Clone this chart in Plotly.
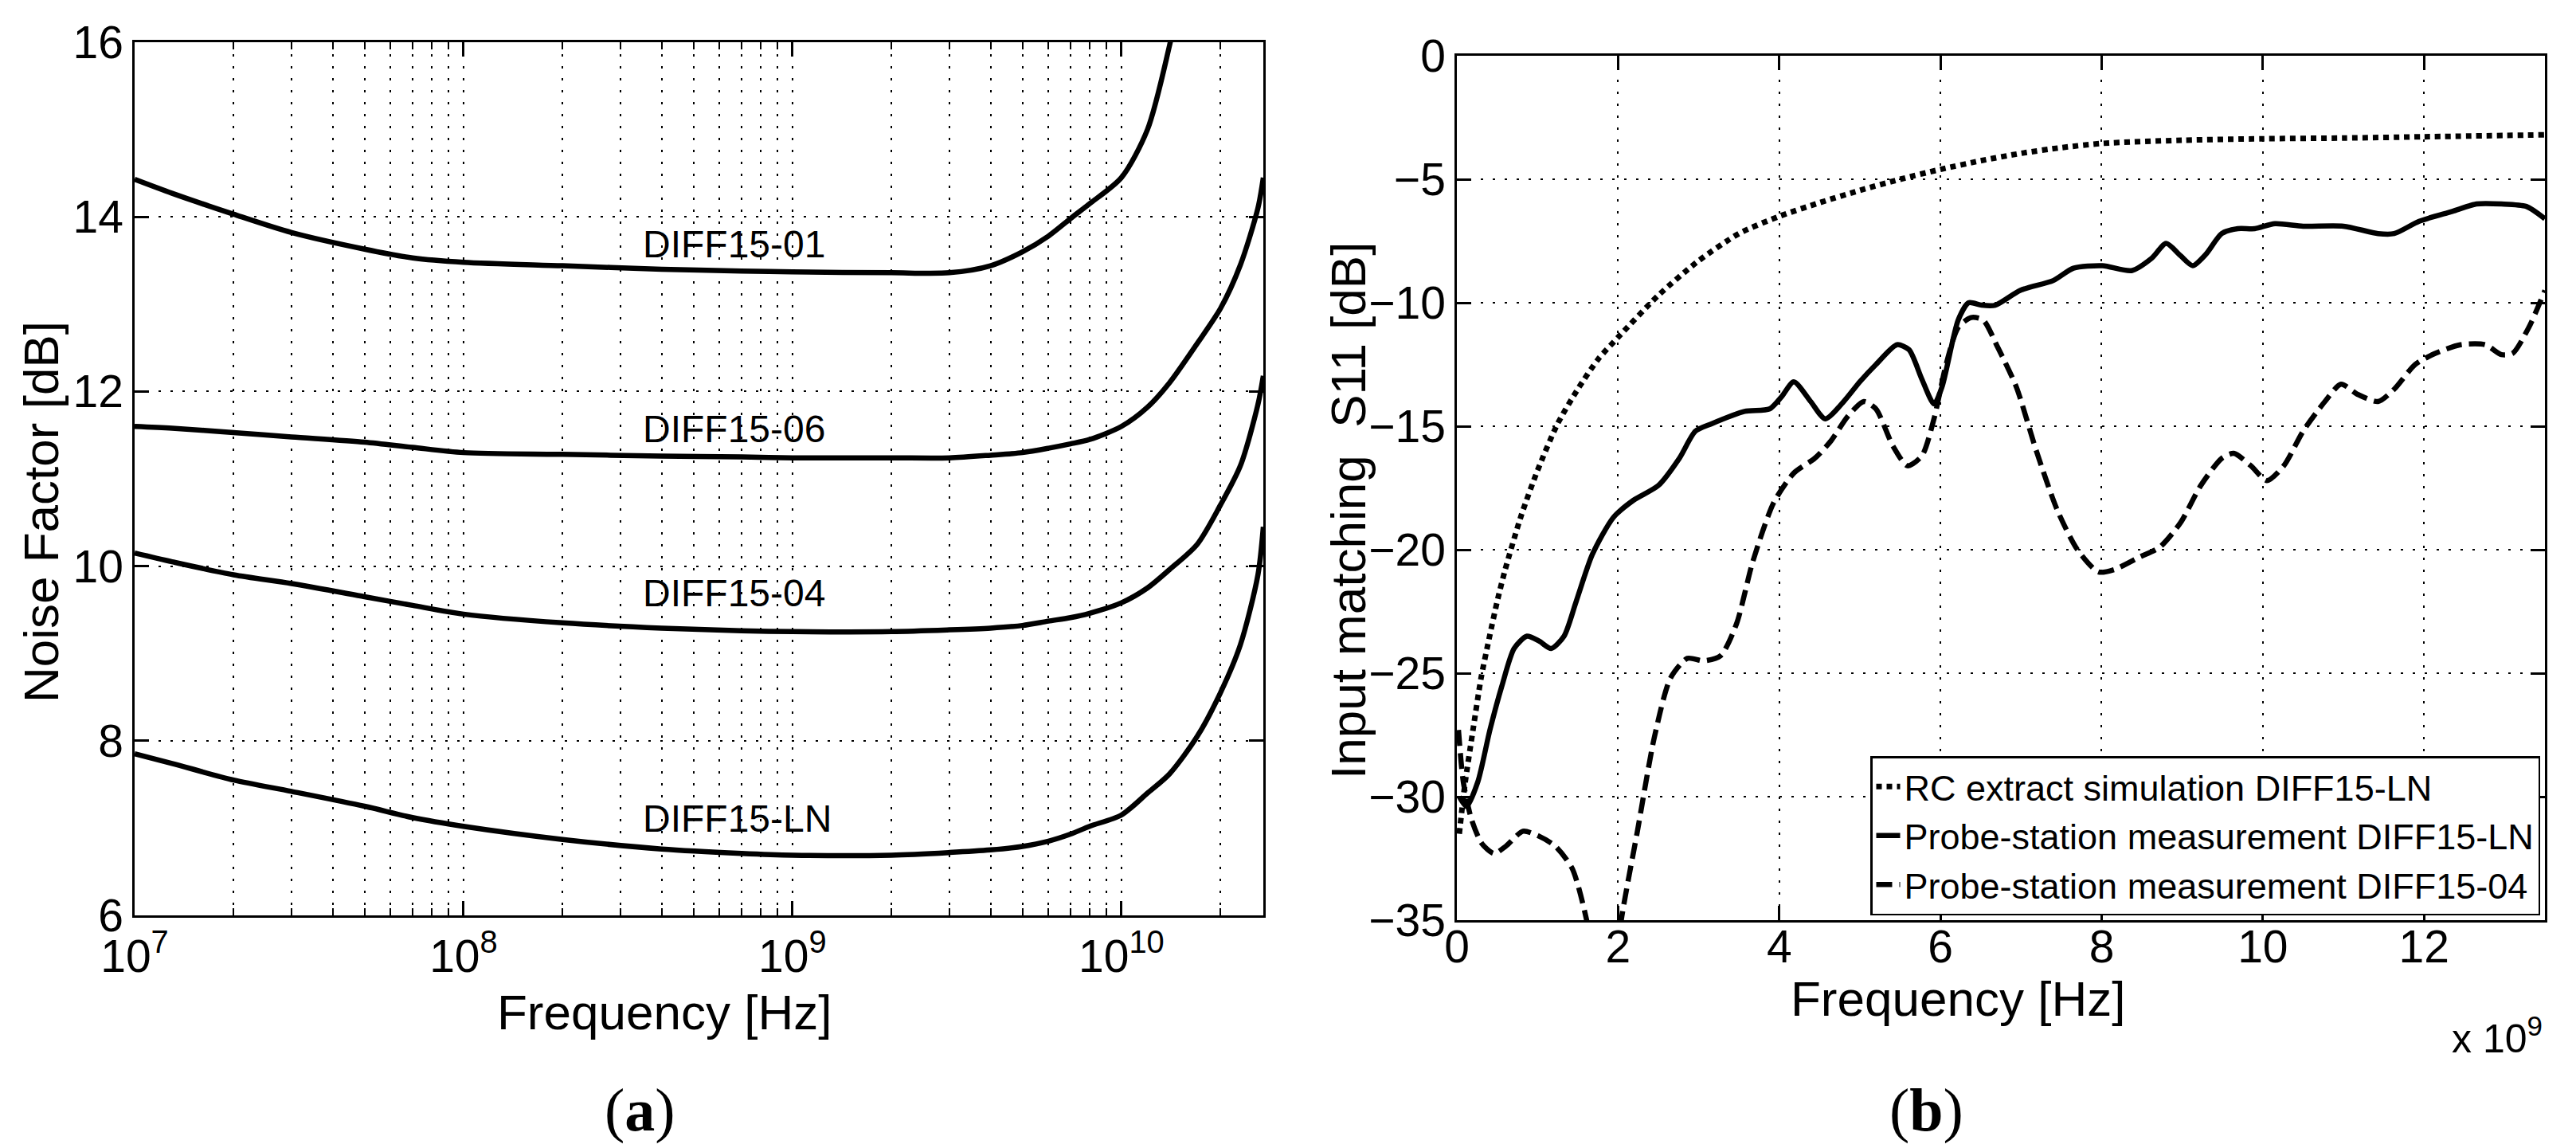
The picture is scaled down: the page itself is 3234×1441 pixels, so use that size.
import plotly.graph_objects as go
import numpy as np

# ---------------- Panel (a): noise factor vs frequency (log) ----------------
nf_freq_hz = [1e7, 1.3e7, 2e7, 3e7, 5e7, 7e7, 1e8, 2e8, 4e8, 7e8, 1e9, 2e9, 3e9,
              4e9, 5e9, 6e9, 7e9, 8e9, 1e10, 1.2e10, 1.4e10, 1.7e10, 2e10, 2.3e10,
              2.6e10, 2.7e10]
nf_diff15_01 = [14.43, 14.27, 14.03, 13.82, 13.63, 13.53, 13.48, 13.44, 13.40, 13.38,
                13.37, 13.36, 13.36, 13.44, 13.60, 13.78, 13.98, 14.15, 14.45, 15.0,
                15.96, 17.5]
nf_diff15_06 = [11.60, 11.58, 11.53, 11.48, 11.42, 11.36, 11.30, 11.28, 11.26, 11.25,
                11.24, 11.24, 11.24, 11.27, 11.30, 11.35, 11.40, 11.45, 11.60, 11.82,
                12.10, 12.55, 12.95, 13.45, 14.10, 14.45]
nf_diff15_04 = [10.15, 10.05, 9.90, 9.80, 9.65, 9.55, 9.45, 9.35, 9.29, 9.26,
                9.25, 9.25, 9.27, 9.29, 9.32, 9.37, 9.41, 9.46, 9.58, 9.75,
                9.96, 10.25, 10.70, 11.15, 11.85, 12.18]
nf_diff15_ln = [7.85, 7.74, 7.55, 7.42, 7.25, 7.12, 7.02, 6.87, 6.76, 6.71,
                6.69, 6.69, 6.72, 6.75, 6.79, 6.85, 6.93, 7.02, 7.15, 7.40,
                7.62, 8.05, 8.55, 9.10, 9.90, 10.45]
nf_names = ["DIFF15-01", "DIFF15-06", "DIFF15-04", "DIFF15-LN"]
nf_label_freq = [6.65e8, 6.65e8, 6.65e8, 6.8e8]
nf_label_val = [13.69, 11.57, 9.69, 7.11]

nf_tickvals = [1e7, 1e8, 1e9, 1e10]
nf_ticktext = ["10<sup>7</sup>", "10<sup>8</sup>", "10<sup>9</sup>", "10<sup>10</sup>"]
nf_yticks = [6, 8, 10, 12, 14, 16]

# ---------------- Panel (b): S11 vs frequency (linear) ----------------
rc_f_ghz = [0.03, 0.1, 0.2, 0.3, 0.4, 0.5, 0.6, 0.8, 1.0, 1.25, 1.5, 1.75, 2.0,
            2.5, 3.0, 3.5, 4.0, 4.5, 5.0, 5.5, 6.0, 6.5, 7.0, 7.5, 8.0, 9.0, 10.0,
            11.0, 12.0, 13.5]
rc_s11 = [-31.5, -29.5, -27.3, -25.2, -23.6, -22.1, -20.8, -18.6, -16.8, -14.9,
          -13.5, -12.3, -11.4, -9.7, -8.3, -7.2, -6.5, -5.95, -5.45, -5.0, -4.6,
          -4.25, -3.95, -3.72, -3.55, -3.42, -3.36, -3.33, -3.28, -3.2]

ln_f_ghz = [0.03, 0.12, 0.26, 0.41, 0.56, 0.71, 0.87, 1.02, 1.17, 1.33, 1.48, 1.68,
            1.94, 2.19, 2.5, 2.76, 2.96, 3.16, 3.57, 3.88, 4.03, 4.18, 4.39, 4.57,
            4.8, 5.0, 5.2, 5.46, 5.61, 5.77, 5.92, 6.02, 6.22, 6.35, 6.51, 6.68,
            6.99, 7.4, 7.65, 8.01, 8.37, 8.62, 8.8, 8.98, 9.13, 9.29, 9.49, 9.69,
            9.9, 10.15, 10.5, 11.0, 11.43, 11.63, 11.94, 12.35, 12.65, 12.96, 13.27,
            13.5]
ln_s11 = [-30.0, -30.4, -29.4, -27.3, -25.5, -24.0, -23.5, -23.7, -24.0, -23.5, -22.1,
          -20.2, -18.7, -18.0, -17.4, -16.3, -15.2, -14.9, -14.4, -14.3, -13.8, -13.2,
          -14.0, -14.7, -14.0, -13.2, -12.5, -11.7, -11.9, -13.1, -14.1, -13.4, -10.7,
          -10.0, -10.1, -10.1, -9.5, -9.1, -8.6, -8.5, -8.7, -8.2, -7.6, -8.1, -8.5,
          -8.05, -7.2, -7.0, -7.0, -6.8, -6.9, -6.9, -7.2, -7.2, -6.7, -6.3, -6.0,
          -6.0, -6.1, -6.6]

d04_f_ghz = [0.02, 0.08, 0.18, 0.31, 0.46, 0.61, 0.82, 1.02, 1.22, 1.43, 1.61, 1.75,
             1.92, 2.04, 2.24, 2.45, 2.65, 2.86, 3.06, 3.27, 3.47, 3.67, 3.93, 4.18,
             4.44, 4.64, 4.85, 5.05, 5.2, 5.41, 5.59, 5.77, 5.92, 6.07, 6.22, 6.38,
             6.53, 6.71, 6.94, 7.19, 7.45, 7.7, 7.96, 8.16, 8.47, 8.72, 8.98, 9.23,
             9.49, 9.64, 9.85, 10.05, 10.26, 10.5, 10.77, 10.97, 11.17, 11.43, 11.63,
             11.89, 12.14, 12.45, 12.76, 12.96, 13.1, 13.3, 13.5]
d04_s11 = [-27.3, -29.4, -30.9, -31.9, -32.3, -32.0, -31.4, -31.6, -32.0, -32.9, -35.0,
           -38.0, -38.5, -35.0, -31.4, -27.6, -25.2, -24.4, -24.5, -24.3, -23.0, -20.5,
           -18.1, -16.9, -16.3, -15.6, -14.6, -14.0, -14.3, -15.8, -16.6, -16.2, -14.7,
           -12.5, -11.0, -10.6, -10.7, -11.8, -13.4, -16.0, -18.4, -20.0, -20.9, -20.8,
           -20.3, -19.9, -18.9, -17.4, -16.3, -16.1, -16.6, -17.2, -16.6, -15.2, -14.0,
           -13.3, -13.7, -14.0, -13.5, -12.5, -12.05, -11.7, -11.7, -12.1, -12.05,
           -11.0, -9.5]

s11_names = ["RC extract simulation DIFF15-LN",
             "Probe-station measurement DIFF15-LN",
             "Probe-station measurement DIFF15-04"]
s11_xticks_ghz = [0, 2, 4, 6, 8, 10, 12]
s11_yticks = [-35, -30, -25, -20, -15, -10, -5, 0]

# ---------------- styling ----------------
FONT = "Liberation Sans, Arial, Helvetica, sans-serif"
SERIF = "Liberation Serif, Times New Roman, serif"
TICK_SIZE = 57
TITLE_SIZE = 62
W, H = 3234, 1441
GRID = dict(showgrid=True, gridcolor="#000000", gridwidth=1.6, griddash="3px,12px")
AX = dict(showline=True, linecolor="black", linewidth=2.5, mirror="allticks",
          ticks="inside", ticklen=18, tickwidth=2.5, tickcolor="black",
          zeroline=False, automargin=False,
          tickfont=dict(family=FONT, size=TICK_SIZE, color="black"))

fig = go.Figure()

for name, vals in zip(nf_names, [nf_diff15_01, nf_diff15_06, nf_diff15_04, nf_diff15_ln]):
    fig.add_trace(go.Scatter(x=nf_freq_hz[:len(vals)], y=vals, mode="lines", name=name,
                             line=dict(color="black", width=6.5, shape="spline",
                                       smoothing=0.8),
                             showlegend=False, xaxis="x", yaxis="y"))

s11_series = [(rc_f_ghz, rc_s11, "7px,6px", 7), (ln_f_ghz, ln_s11, "solid", 6.5),
              (d04_f_ghz, d04_s11, "20px,9px", 6.5)]
for name, (fx, sy, dash, lw) in zip(s11_names, s11_series):
    fig.add_trace(go.Scatter(x=[v * 1e9 for v in fx], y=sy, mode="lines", name=name,
                             line=dict(color="black", width=lw, dash=dash,
                                       shape="spline", smoothing=0.7),
                             xaxis="x2", yaxis="y2"))

minor_vals = [m * 10 ** e for e in range(7, 11) for m in range(2, 10) if m * 10 ** e < 2.7e10]

fig.update_layout(
    width=W, height=H, margin=dict(l=0, r=0, t=0, b=0),
    paper_bgcolor="white", plot_bgcolor="white",
    font=dict(family=FONT, color="black"),
    xaxis=dict(type="log", range=[7, np.log10(2.7e10)], domain=[161 / W, 1578 / W],
               tickvals=nf_tickvals, ticktext=nf_ticktext, anchor="y",
               minor=dict(tickvals=minor_vals, ticks="inside", ticklen=9, tickwidth=2,
                          tickcolor="black", showgrid=True, gridcolor="#000000",
                          gridwidth=1.6, griddash="3px,12px"),
               **GRID, **AX),
    yaxis=dict(range=[6, 16], domain=[1 - 1141 / H, 1 - 45 / H], tickvals=nf_yticks,
               anchor="x", **GRID, **AX),
    xaxis2=dict(range=[0, 13.5e9], domain=[1821 / W, 3187 / W],
                tickvals=[v * 1e9 for v in s11_xticks_ghz],
                ticktext=[str(v) for v in s11_xticks_ghz], anchor="y2",
                ticklabelstandoff=-18, **GRID, **AX),
    yaxis2=dict(range=[-35, 0], domain=[1 - 1147 / H, 1 - 62 / H], tickvals=s11_yticks,
                ticktext=[("\u2212" + str(-v)) if v < 0 else str(v) for v in s11_yticks],
                anchor="x2", **GRID, **AX),
    legend=dict(x=3181 / W, xanchor="right", y=1 - 941 / H, yanchor="top",
                bgcolor="white", bordercolor="black", borderwidth=2.5,
                font=dict(family=FONT, size=45, color="black"), tracegroupgap=0),
    showlegend=True,
)

for name, fx, fy in zip(nf_names, nf_label_freq, nf_label_val):
    fig.add_annotation(x=np.log10(fx), y=fy, xref="x", yref="y", text=name,
                       showarrow=False, font=dict(family=FONT, size=48, color="black"))

title_font = dict(family=FONT, size=TITLE_SIZE, color="black")


def paper_text(px, py, text, font, angle=0, xanchor="center"):
    fig.add_annotation(x=px / W, y=1 - py / H, xref="paper", yref="paper", text=text,
                       textangle=angle, showarrow=False, xanchor=xanchor,
                       yanchor="middle", font=font)


paper_text(826, 1262, "Frequency [Hz]", title_font)
paper_text(2450, 1245, "Frequency [Hz]", title_font)
paper_text(43, 635, "Noise Factor [dB]", title_font, angle=-90)
paper_text(1684, 633, "Input matching\u00a0\u00a0S11 [dB]", title_font, angle=-90)
paper_text(3186, 1292, "x 10<sup>9</sup>", dict(family=FONT, size=50, color="black"),
           xanchor="right")
paper_text(795, 1385, "(<b>a</b>)", dict(family=SERIF, size=76, color="black"))
paper_text(2410, 1385, "(<b>b</b>)", dict(family=SERIF, size=76, color="black"))

fig.write_html("out.html")
